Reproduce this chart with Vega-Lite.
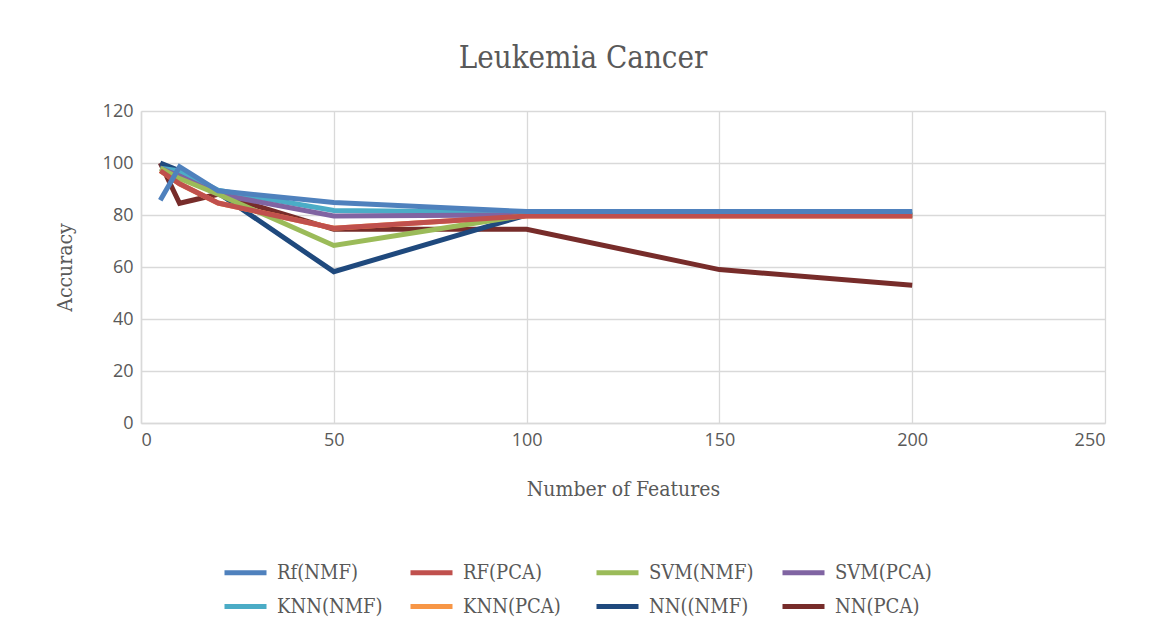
{
  "$schema": "https://vega.github.io/schema/vega-lite/v6.json",
  "autosize": "none",
  "width": 964,
  "height": 312,
  "padding": {"left": 141, "top": 111, "right": 48, "bottom": 195},
  "background": "white",
  "title": {
    "text": "Leukemia Cancer",
    "font": "DejaVu Serif Condensed",
    "fontSize": 31,
    "fontWeight": "normal",
    "color": "#595959",
    "anchor": "middle",
    "frame": "group",
    "dx": -40,
    "offset": 27
  },
  "data": {
    "values": [
      {"model": "NN(PCA)", "features": 5, "accuracy": 100},
      {"model": "NN(PCA)", "features": 10, "accuracy": 84.5},
      {"model": "NN(PCA)", "features": 20, "accuracy": 88},
      {"model": "NN(PCA)", "features": 50, "accuracy": 74.5},
      {"model": "NN(PCA)", "features": 100, "accuracy": 74.5},
      {"model": "NN(PCA)", "features": 150, "accuracy": 59},
      {"model": "NN(PCA)", "features": 200, "accuracy": 53},
      {"model": "NN((NMF)", "features": 5, "accuracy": 100},
      {"model": "NN((NMF)", "features": 10, "accuracy": 97},
      {"model": "NN((NMF)", "features": 20, "accuracy": 88.5},
      {"model": "NN((NMF)", "features": 50, "accuracy": 58.2},
      {"model": "NN((NMF)", "features": 100, "accuracy": 80},
      {"model": "NN((NMF)", "features": 150, "accuracy": 80},
      {"model": "NN((NMF)", "features": 200, "accuracy": 80},
      {"model": "KNN(PCA)", "features": 5, "accuracy": 97},
      {"model": "KNN(PCA)", "features": 10, "accuracy": 92},
      {"model": "KNN(PCA)", "features": 20, "accuracy": 84.6},
      {"model": "KNN(PCA)", "features": 50, "accuracy": 74.9},
      {"model": "KNN(PCA)", "features": 100, "accuracy": 79.6},
      {"model": "KNN(PCA)", "features": 150, "accuracy": 79.6},
      {"model": "KNN(PCA)", "features": 200, "accuracy": 79.6},
      {"model": "KNN(NMF)", "features": 5, "accuracy": 98},
      {"model": "KNN(NMF)", "features": 10, "accuracy": 97},
      {"model": "KNN(NMF)", "features": 20, "accuracy": 89.5},
      {"model": "KNN(NMF)", "features": 50, "accuracy": 81.7},
      {"model": "KNN(NMF)", "features": 100, "accuracy": 81},
      {"model": "KNN(NMF)", "features": 150, "accuracy": 81},
      {"model": "KNN(NMF)", "features": 200, "accuracy": 81},
      {"model": "SVM(PCA)", "features": 5, "accuracy": 98},
      {"model": "SVM(PCA)", "features": 10, "accuracy": 95},
      {"model": "SVM(PCA)", "features": 20, "accuracy": 88},
      {"model": "SVM(PCA)", "features": 50, "accuracy": 79.6},
      {"model": "SVM(PCA)", "features": 100, "accuracy": 80},
      {"model": "SVM(PCA)", "features": 150, "accuracy": 80},
      {"model": "SVM(PCA)", "features": 200, "accuracy": 80},
      {"model": "SVM(NMF)", "features": 5, "accuracy": 98},
      {"model": "SVM(NMF)", "features": 10, "accuracy": 94},
      {"model": "SVM(NMF)", "features": 20, "accuracy": 88},
      {"model": "SVM(NMF)", "features": 50, "accuracy": 68.3},
      {"model": "SVM(NMF)", "features": 100, "accuracy": 80},
      {"model": "SVM(NMF)", "features": 150, "accuracy": 80},
      {"model": "SVM(NMF)", "features": 200, "accuracy": 80},
      {"model": "RF(PCA)", "features": 5, "accuracy": 97},
      {"model": "RF(PCA)", "features": 10, "accuracy": 92},
      {"model": "RF(PCA)", "features": 20, "accuracy": 84.6},
      {"model": "RF(PCA)", "features": 50, "accuracy": 74.9},
      {"model": "RF(PCA)", "features": 100, "accuracy": 79.6},
      {"model": "RF(PCA)", "features": 150, "accuracy": 79.6},
      {"model": "RF(PCA)", "features": 200, "accuracy": 79.6},
      {"model": "Rf(NMF)", "features": 5, "accuracy": 85.7},
      {"model": "Rf(NMF)", "features": 10, "accuracy": 98.6},
      {"model": "Rf(NMF)", "features": 20, "accuracy": 89.3},
      {"model": "Rf(NMF)", "features": 50, "accuracy": 84.8},
      {"model": "Rf(NMF)", "features": 100, "accuracy": 81.3},
      {"model": "Rf(NMF)", "features": 150, "accuracy": 81.3},
      {"model": "Rf(NMF)", "features": 200, "accuracy": 81.3}
    ]
  },
  "mark": {"type": "line", "strokeWidth": 5, "strokeJoin": "miter", "strokeCap": "butt"},
  "encoding": {
    "x": {
      "field": "features",
      "type": "quantitative",
      "scale": {"domain": [0, 250], "nice": false},
      "axis": {
        "title": "Number of Features",
        "values": [0, 50, 100, 150, 200, 250],
        "titleX": 482,
        "titleY": 66,
        "titleBaseline": "middle",
        "titleAlign": "center"
      }
    },
    "y": {
      "field": "accuracy",
      "type": "quantitative",
      "scale": {"domain": [0, 120], "nice": false},
      "axis": {
        "title": "Accuracy",
        "values": [0, 20, 40, 60, 80, 100, 120],
        "titleX": -76,
        "titleY": 156,
        "titleAngle": -90,
        "titleBaseline": "middle",
        "titleAlign": "center"
      }
    },
    "color": {
      "field": "model",
      "type": "nominal",
      "scale": {
        "domain": ["Rf(NMF)", "RF(PCA)", "SVM(NMF)", "SVM(PCA)", "KNN(NMF)", "KNN(PCA)", "NN((NMF)", "NN(PCA)"],
        "range": ["#4F81BD", "#C0504D", "#9BBB59", "#8064A2", "#4BACC6", "#F79646", "#1F497D", "#772C2A"]
      },
      "legend": {
        "title": null,
        "orient": "none",
        "direction": "horizontal",
        "columns": 4,
        "legendX": 81,
        "legendY": 438,
        "gridAlign": "all",
        "columnPadding": 17,
        "rowPadding": -13,
        "symbolType": "stroke",
        "symbolSize": 1764,
        "symbolStrokeWidth": 5,
        "labelOffset": 8,
        "labelFont": "DejaVu Serif Condensed",
        "labelFontSize": 20,
        "labelColor": "#595959"
      }
    }
  },
  "config": {
    "view": {"stroke": null},
    "axis": {
      "domainColor": "#D9D9D9",
      "domainWidth": 1.5,
      "gridColor": "#D9D9D9",
      "gridWidth": 1.3,
      "ticks": false,
      "labelFont": "Open Sans",
      "labelFontSize": 18,
      "labelColor": "#595959",
      "labelPadding": 8,
      "titleFont": "DejaVu Serif Condensed",
      "titleFontSize": 21,
      "titleFontWeight": "normal",
      "titleColor": "#595959"
    },
    "axisX": {"labelPadding": 8},
    "axisY": {"labelPadding": 8}
  }
}
